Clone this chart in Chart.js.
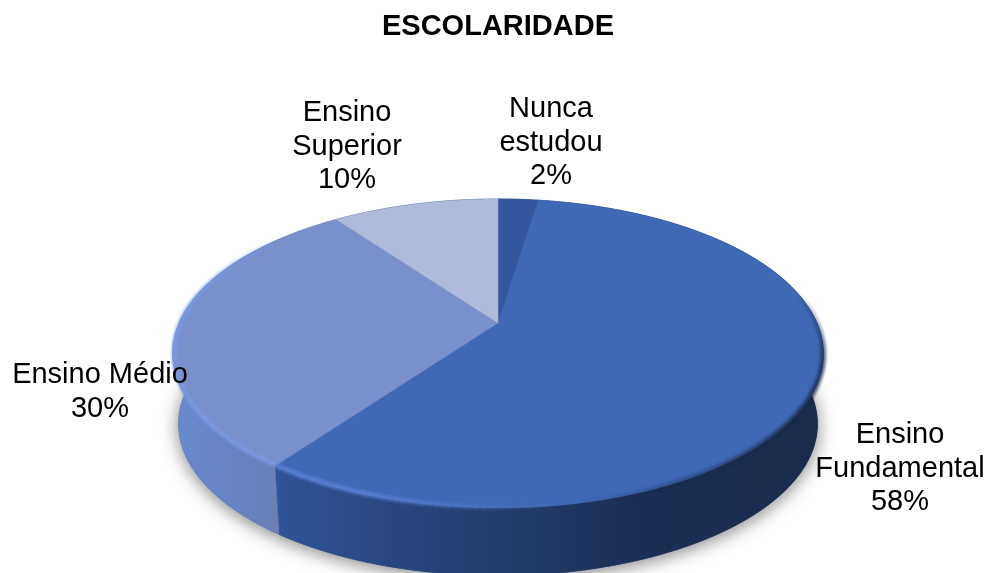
<!DOCTYPE html>
<html>
<head>
<meta charset="utf-8">
<style>html,body{margin:0;padding:0;background:#fff}#wrap{width:987px;height:573px}</style>
<script src="https://cdn.jsdelivr.net/npm/chart.js@4/dist/chart.umd.js"></script>
</head>
<body>
<div id="wrap"><canvas id="c" width="987" height="573"></canvas></div>
<script>
const titleText = 'ESCOLARIDADE';
const categories = ['Nunca estudou', 'Ensino Fundamental', 'Ensino Médio', 'Ensino Superior'];
const shares = [2.4, 57.6, 30, 10];
const topColors = ['#34589F', '#3F68B5', '#7A90CC', '#B0BBDC'];
const labelWrap = [true, true, false, true];
const labelCenters = [[551, 142.5], [900, 468.5], [100, 392], [347, 146.5]];

// View of the pie disc (perspective from above)
const view = { x: 498, y: 323, a: 319, b: 148.5, c: -0.1974, depth: 67, baseScale: 0.982 };
const FONT = '"Liberation Sans", Arial, sans-serif';

function rimPoint(ang, base) {
  const u = Math.cos(ang), v = Math.sin(ang), d = 1 + view.c * v;
  let X = view.a * u / d, Y = view.b * v / d;
  if (base) { X *= view.baseScale; Y = Y * view.baseScale + view.depth + 4; }
  return [view.x + X, view.y + Y];
}
function traceArc(ctx, a0, a1, base, move) {
  const n = Math.max(2, Math.ceil(Math.abs(a1 - a0) / 0.01));
  for (let i = 0; i <= n; i++) {
    const p = rimPoint(a0 + (a1 - a0) * i / n, base);
    if (i === 0 && move) ctx.moveTo(p[0], p[1]); else ctx.lineTo(p[0], p[1]);
  }
}
function rad(deg) { return (deg - 90) * Math.PI / 180; }

function sideGradient(ctx, i) {
  const g = ctx.createLinearGradient(172, 0, 824, 0);
  if (i === 2) {
    g.addColorStop(0, '#6A8ACF'); g.addColorStop(0.08, '#6684C6'); g.addColorStop(0.17, '#6A7FB4'); g.addColorStop(1, '#6A7FB4');
  } else {
    g.addColorStop(0, '#2F5497'); g.addColorStop(0.17, '#2F5497'); g.addColorStop(0.35, '#27457F');
    g.addColorStop(0.55, '#223A68'); g.addColorStop(0.72, '#1C2E55'); g.addColorStop(1, '#1A2B4C');
  }
  return g;
}

function rimTone(deg) {
  // deg: clockwise from top
  const ramp = (v, a, b) => Math.max(0, Math.min(1, (v - a) / (b - a)));
  if (deg >= 216 && deg <= 318) return [122, 155, 230, 0.8 * (1 - ramp(deg, 280, 310))];
  if (deg >= 168 && deg < 216) return [92, 134, 216, 0.8 * ramp(deg, 170, 205)];
  if (deg >= 75 && deg < 168) return [26, 42, 76, 0.85 * ramp(deg, 78, 105) * (1 - ramp(deg, 125, 168))];
  return null;
}

const pie3d = {
  id: 'pie3d',
  beforeDatasetsDraw(chart) {
    const ctx = chart.ctx, arcs = chart.getDatasetMeta(0).data;
    // soft cast shadow
    ctx.save();
    ctx.shadowColor = 'rgba(0,0,0,0.5)';
    ctx.shadowBlur = 18;
    ctx.shadowOffsetY = 3;
    ctx.fillStyle = '#3a4f80';
    ctx.beginPath();
    traceArc(ctx, 0, Math.PI * 2, true, true);
    ctx.closePath();
    ctx.fill();
    ctx.restore();
    // side walls
    arcs.forEach((arc, i) => {
      ctx.beginPath();
      traceArc(ctx, arc.startAngle, arc.endAngle, false, true);
      traceArc(ctx, arc.endAngle, arc.startAngle, true, false);
      ctx.closePath();
      const g = sideGradient(ctx, i);
      ctx.fillStyle = g; ctx.strokeStyle = g; ctx.lineWidth = 0.6;
      ctx.fill(); ctx.stroke();
    });
    // top face
    arcs.forEach((arc, i) => {
      ctx.beginPath();
      ctx.moveTo(view.x, view.y);
      traceArc(ctx, arc.startAngle, arc.endAngle, false, false);
      ctx.closePath();
      ctx.fillStyle = topColors[i];
      ctx.strokeStyle = topColors[i];
      ctx.lineWidth = 0.5;
      ctx.fill(); ctx.stroke();
    });
    // bevel along the rim
    ctx.save();
    ctx.filter = 'blur(1.6px)';
    ctx.lineWidth = 5;
    ctx.lineCap = 'butt';
    for (let d = 75; d < 320; d += 1) {
      const t = rimTone(d + 0.5);
      if (!t || t[3] <= 0) continue;
      const inset = d < 168 ? 1 : 0.995;
      const p0 = rimPoint(rad(d), false), p1 = rimPoint(rad(d + 1.2), false);
      ctx.strokeStyle = `rgba(${t[0]},${t[1]},${t[2]},${t[3]})`;
      ctx.beginPath();
      ctx.moveTo(view.x + (p0[0] - view.x) * inset, view.y + (p0[1] - view.y) * inset);
      ctx.lineTo(view.x + (p1[0] - view.x) * inset, view.y + (p1[1] - view.y) * inset);
      ctx.stroke();
    }
    ctx.restore();
    return false;
  },
  afterDraw(chart) {
    const ctx = chart.ctx;
    ctx.save();
    ctx.fillStyle = '#000';
    ctx.font = '29px ' + FONT;
    ctx.textAlign = 'center';
    ctx.textBaseline = 'middle';
    const lh = 33.7;
    categories.forEach((name, i) => {
      const lines = (labelWrap[i] ? name.split(' ') : [name]).concat(Math.round(shares[i]) + '%');
      const c = labelCenters[i];
      lines.forEach((ln, k) => ctx.fillText(ln, c[0], c[1] + (k - (lines.length - 1) / 2) * lh));
    });
    ctx.restore();
  }
};

new Chart(document.getElementById('c'), {
  type: 'pie',
  data: {
    labels: categories,
    datasets: [{ data: shares, backgroundColor: topColors, borderWidth: 0 }]
  },
  options: {
    responsive: false,
    animation: false,
    layout: { padding: { left: 9, top: 10 } },
    plugins: {
      legend: { display: false },
      tooltip: { enabled: false },
      title: {
        display: true,
        text: titleText,
        color: '#000',
        font: { family: FONT, size: 29, weight: 'bold' },
        padding: { top: 0, bottom: 10 }
      }
    }
  },
  plugins: [pie3d]
});
</script>
</body>
</html>
